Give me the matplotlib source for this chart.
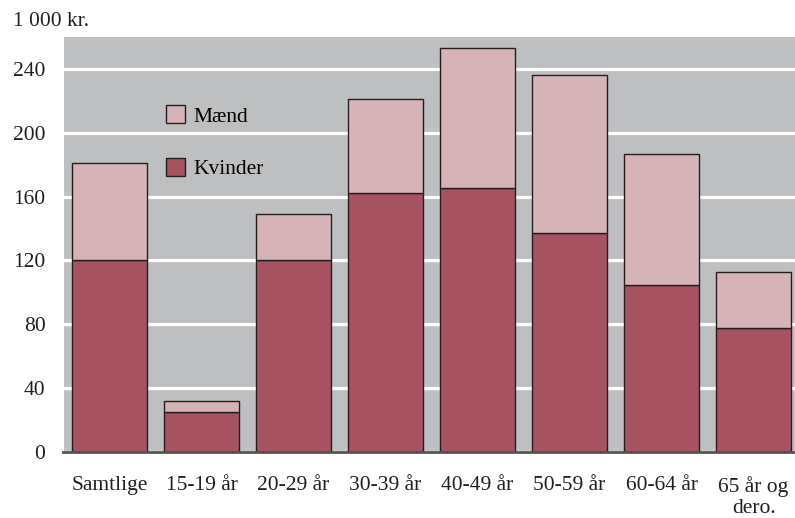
import numpy as np
import matplotlib.pyplot as plt
from matplotlib.patches import Patch

# Data
categories = ['Samtlige', '15-19 år', '20-29 år', '30-39 år', '40-49 år',
              '50-59 år', '60-64 år', '65 år og\ndero.']
kvinder = [120, 25, 120, 162, 165.5, 137, 104.5, 78]
total = [181, 32, 149, 221, 253, 236, 186.5, 112.5]
maend = [t - k for t, k in zip(total, kvinder)]
yticks = [0, 40, 80, 120, 160, 200, 240]

c_kv = '#A65260'
c_ma = '#D6B3B7'
c_bg = '#BEBFC1'
c_edge = '#231F20'

plt.rcParams['font.family'] = ['Liberation Serif', 'DejaVu Serif']
plt.rcParams['font.size'] = 15.5

fig = plt.figure(figsize=(7.95, 5.18), dpi=100)
ax = fig.add_axes([63.5 / 795, 1 - 452 / 518, 1 - 63.5 / 795, 415 / 518])
ax.set_facecolor(c_bg)

x = np.arange(len(categories))
ax.bar(x, kvinder, width=0.82, color=c_kv, edgecolor=c_edge, linewidth=1, zorder=3)
ax.bar(x, maend, width=0.82, bottom=kvinder, color=c_ma, edgecolor=c_edge, linewidth=1, zorder=3)

ax.set_xlim(-0.5, 7.45)
ax.set_ylim(0, 260)
ax.set_yticks(yticks)
ax.set_yticklabels([str(v) for v in yticks], color='#231F20')
ax.set_xticks(x)
ax.set_xticklabels(categories, color='#231F20', linespacing=1.2)
ax.tick_params(axis='y', length=0, pad=13)
ax.tick_params(axis='x', length=0, pad=17)

ax.grid(axis='y', color='white', linewidth=2.3, zorder=1)
ax.set_axisbelow(True)
for s in ['top', 'right', 'left']:
    ax.spines[s].set_visible(False)
ax.spines['bottom'].set_color('#555555')
ax.spines['bottom'].set_linewidth(2)
ax.spines['bottom'].set_zorder(4)

handles = [Patch(facecolor=c_ma, edgecolor=c_edge, linewidth=1, label='Mænd'),
           Patch(facecolor=c_kv, edgecolor=c_edge, linewidth=1, label='Kvinder')]
ax.legend(handles=handles, loc='upper left', bbox_to_anchor=(0.14, 0.835),
          frameon=False, borderpad=0, borderaxespad=0, handlelength=0.9,
          handleheight=0.9, handletextpad=0.4, labelspacing=1.45)

fig.text(13 / 795, 1 - 22 / 518, '1 000 kr.', ha='left', va='center', color='#231F20')

fig.savefig('out.png', dpi=100)
